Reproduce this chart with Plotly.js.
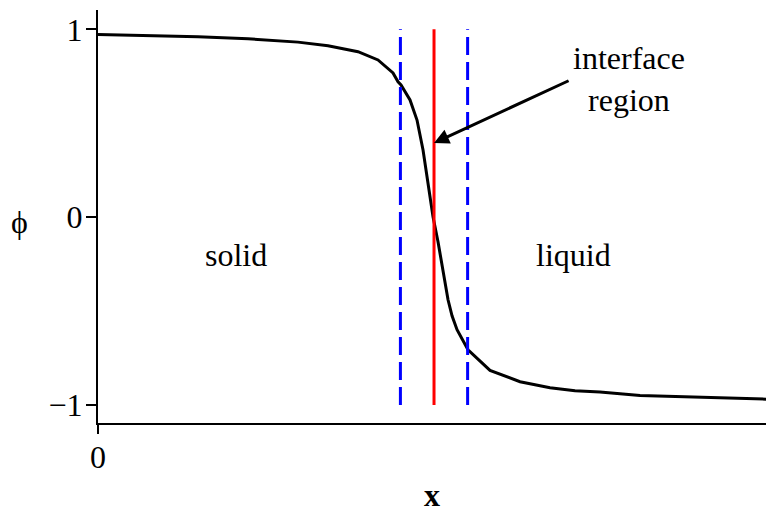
<!DOCTYPE html>
<html>
<head>
<meta charset="utf-8">
<script src="https://cdn.plot.ly/plotly-3.0.1.min.js"></script>
<style>
  html, body { margin: 0; padding: 0; background: #fff; }
  #chart { width: 766px; height: 513px; }
</style>
</head>
<body>
<div id="chart"></div>
<script>
// Phase-field profile phi(x) across a solid/liquid interface
const xPos = [0, 1.488, 2.976, 4.464, 5.952, 6.845, 7.738, 8.333, 8.78, 8.929, 9.018,
  9.286, 9.494, 9.673, 9.821, 9.97, 10.119, 10.268, 10.417, 10.536, 10.685, 11.012,
  11.667, 12.56, 13.452, 14.196, 14.94, 16.131, 17.917, 19.881];
const phi = [0.973, 0.966, 0.961, 0.95, 0.932, 0.913, 0.881, 0.837, 0.768, 0.721, 0.704,
  0.624, 0.517, 0.358, 0.182, 0.002, -0.131, -0.28, -0.44, -0.525, -0.599, -0.706,
  -0.816, -0.876, -0.908, -0.924, -0.931, -0.949, -0.959, -0.969];

// interface centre and the edges of the interface region
const interfaceCentre = 10;
const regionEdges = [9, 11];
const markerSpan = [-1, 1];

const yTicks = [-1, 0, 1];
const yTickText = ["\u22121", "0", "1"];
const xTicks = [0];
const xTickText = ["0"];

const serif = "Liberation Serif, Times New Roman, serif";

const traces = [
  {
    x: xPos, y: phi, type: "scatter", mode: "lines",
    line: { color: "#000", width: 3 }, hoverinfo: "skip"
  },
  ...regionEdges.map(e => ({
    x: [e, e], y: markerSpan, type: "scatter", mode: "lines",
    line: { color: "#0000ff", width: 3, dash: "18px,7px" }, hoverinfo: "skip"
  })),
  {
    x: [interfaceCentre, interfaceCentre], y: markerSpan, type: "scatter", mode: "lines",
    line: { color: "#ff0000", width: 3 }, hoverinfo: "skip"
  }
];

const layout = {
  width: 766, height: 513,
  margin: { l: 98, r: 0, t: 10, b: 90 },
  paper_bgcolor: "#fff", plot_bgcolor: "#fff",
  showlegend: false,
  font: { family: serif, size: 32, color: "#000" },
  xaxis: {
    range: [0, 19.88], showgrid: false, zeroline: false,
    showline: true, linecolor: "#000", linewidth: 2,
    ticks: "outside", ticklen: 9, tickwidth: 2, tickcolor: "#000",
    tickvals: xTicks, ticktext: xTickText, ticklabelstandoff: -4,
    tickfont: { family: serif, size: 32 },
    title: { text: "<b>x</b>", font: { family: serif, size: 32 }, standoff: 22 }
  },
  yaxis: {
    range: [-1.096, 1.103], showgrid: false, zeroline: false,
    showline: true, linecolor: "#000", linewidth: 2,
    ticks: "outside", ticklen: 10, tickwidth: 2, tickcolor: "#000",
    tickvals: yTicks, ticktext: yTickText, ticklabelstandoff: -3,
    tickfont: { family: serif, size: 32 }
  },
  annotations: [
    // upright phi label beside the vertical axis
    { xref: "paper", x: 0, xshift: -79, y: -0.025, text: "\u03d5", showarrow: false,
      xanchor: "center", font: { family: serif, size: 32 } },
    { x: 4.11, y: -0.2, text: "solid", showarrow: false, font: { family: serif, size: 32 } },
    { x: 14.14, y: -0.2, text: "liquid", showarrow: false, font: { family: serif, size: 32 } },
    { x: 15.8, y: 0.735, text: "interface<br>region", showarrow: false, align: "center",
      font: { family: serif, size: 32 } },
    { x: 10.0, y: 0.395, axref: "x", ayref: "y", ax: 14.05, ay: 0.73,
      text: "", showarrow: true, arrowhead: 2, arrowsize: 1, arrowwidth: 3, arrowcolor: "#000" }
  ]
};

Plotly.newPlot("chart", traces, layout, { staticPlot: true, displayModeBar: false });
</script>
</body>
</html>
